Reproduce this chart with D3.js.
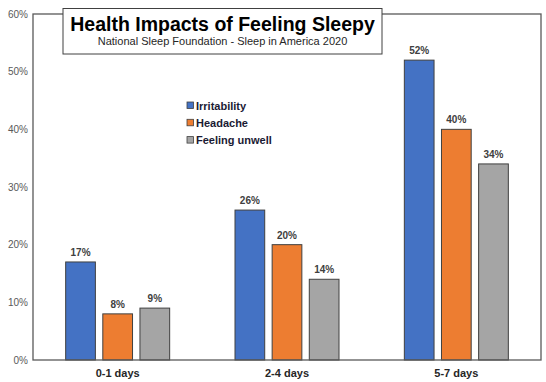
<!DOCTYPE html>
<html><head><meta charset="utf-8">
<script src="https://cdn.jsdelivr.net/npm/d3@7"></script>
<style>body{margin:0;background:#fff}svg{display:block;font-family:"Liberation Sans",Arial,sans-serif}</style>
</head><body>
<svg id="c" width="546" height="382"></svg>
<script>
const categories = ["0-1 days", "2-4 days", "5-7 days"];
const seriesNames = ["Irritability", "Headache", "Feeling unwell"];
const irritability = [17, 26, 52];
const headache = [8, 20, 40];
const feelingUnwell = [9, 14, 34];
const yTicks = [0, 10, 20, 30, 40, 50, 60];
const colors = ["#4472C4", "#ED7D31", "#A5A5A5"];

const seriesValues = [irritability, headache, feelingUnwell];
const svg = d3.select("#c");
const L = 33, R = 541, T = 14, B = 360;

const x0 = d3.scaleBand().domain(categories).range([L, R]).padding(0);
const groupW = 104;
const x1 = d3.scaleBand().domain(seriesNames).range([0, groupW]).paddingInner(0.2).paddingOuter(0);
const y = d3.scaleLinear().domain([0, 60]).range([B, T]);

// y axis labels
const yAxis = d3.axisLeft(y).tickValues(yTicks).tickFormat(d => d + "%").tickSize(0).tickPadding(5);
const ya = svg.append("g").attr("transform", `translate(${L},0)`).call(yAxis);
ya.select(".domain").remove();
ya.selectAll("text").attr("fill", "#595959").style("font-size", "10px").style("font-family", "Liberation Sans, Arial, sans-serif");

// x axis labels
const xAxis = d3.axisBottom(x0).tickSize(0).tickPadding(9);
const xa = svg.append("g").attr("transform", `translate(0,${B})`).call(xAxis);
xa.select(".domain").remove();
xa.selectAll("text").attr("fill", "#262626").style("font-size", "11px").style("font-weight", "bold").style("font-family", "Liberation Sans, Arial, sans-serif");

// bars
const rows = [];
categories.forEach((c, i) => seriesNames.forEach((s, j) => rows.push({c, s, j, v: seriesValues[j][i]})));
const off = (x0.bandwidth() - groupW) / 2;
const g = svg.append("g");
g.selectAll("rect").data(rows).join("rect")
  .attr("x", d => x0(d.c) + off + x1(d.s))
  .attr("y", d => y(d.v))
  .attr("width", x1.bandwidth())
  .attr("height", d => B - y(d.v))
  .attr("fill", d => colors[d.j])
  .attr("stroke", "#404040").attr("stroke-width", 1);
g.selectAll("text").data(rows).join("text")
  .attr("x", d => x0(d.c) + off + x1(d.s) + x1.bandwidth() / 2)
  .attr("y", d => y(d.v) - 6)
  .attr("text-anchor", "middle")
  .attr("fill", "#404040").style("font-size", "10px").style("font-weight", "bold")
  .text(d => d.v + "%");

// plot border
svg.append("rect").attr("x", L).attr("y", T).attr("width", R - L).attr("height", B - T)
  .attr("fill", "none").attr("stroke", "#595959").attr("stroke-width", 1.3);

// title box
svg.append("rect").attr("x", 63).attr("y", 8.5).attr("width", 319).attr("height", 45.5)
  .attr("fill", "#fff").attr("stroke", "#404040").attr("stroke-width", 1);
svg.append("text").attr("x", 222.5).attr("y", 31).attr("text-anchor", "middle")
  .style("font-size", "19.5px").style("font-weight", "bold").attr("fill", "#000")
  .text("Health Impacts of Feeling Sleepy");
svg.append("text").attr("x", 222.5).attr("y", 45).attr("text-anchor", "middle")
  .style("font-size", "11px").attr("fill", "#262626")
  .text("National Sleep Foundation - Sleep in America 2020");

// legend
const lg = svg.append("g").attr("transform", "translate(187,102)");
seriesNames.forEach((s, j) => {
  lg.append("rect").attr("x", 0).attr("y", j * 17.3).attr("width", 6.5).attr("height", 6.5)
    .attr("fill", colors[j]).attr("stroke", "#404040").attr("stroke-width", 0.8);
  lg.append("text").attr("x", 9).attr("y", j * 17.3 + 7.5)
    .style("font-size", "11px").style("font-weight", "bold").attr("fill", "#1a1a33").text(s);
});
</script>
</body></html>
